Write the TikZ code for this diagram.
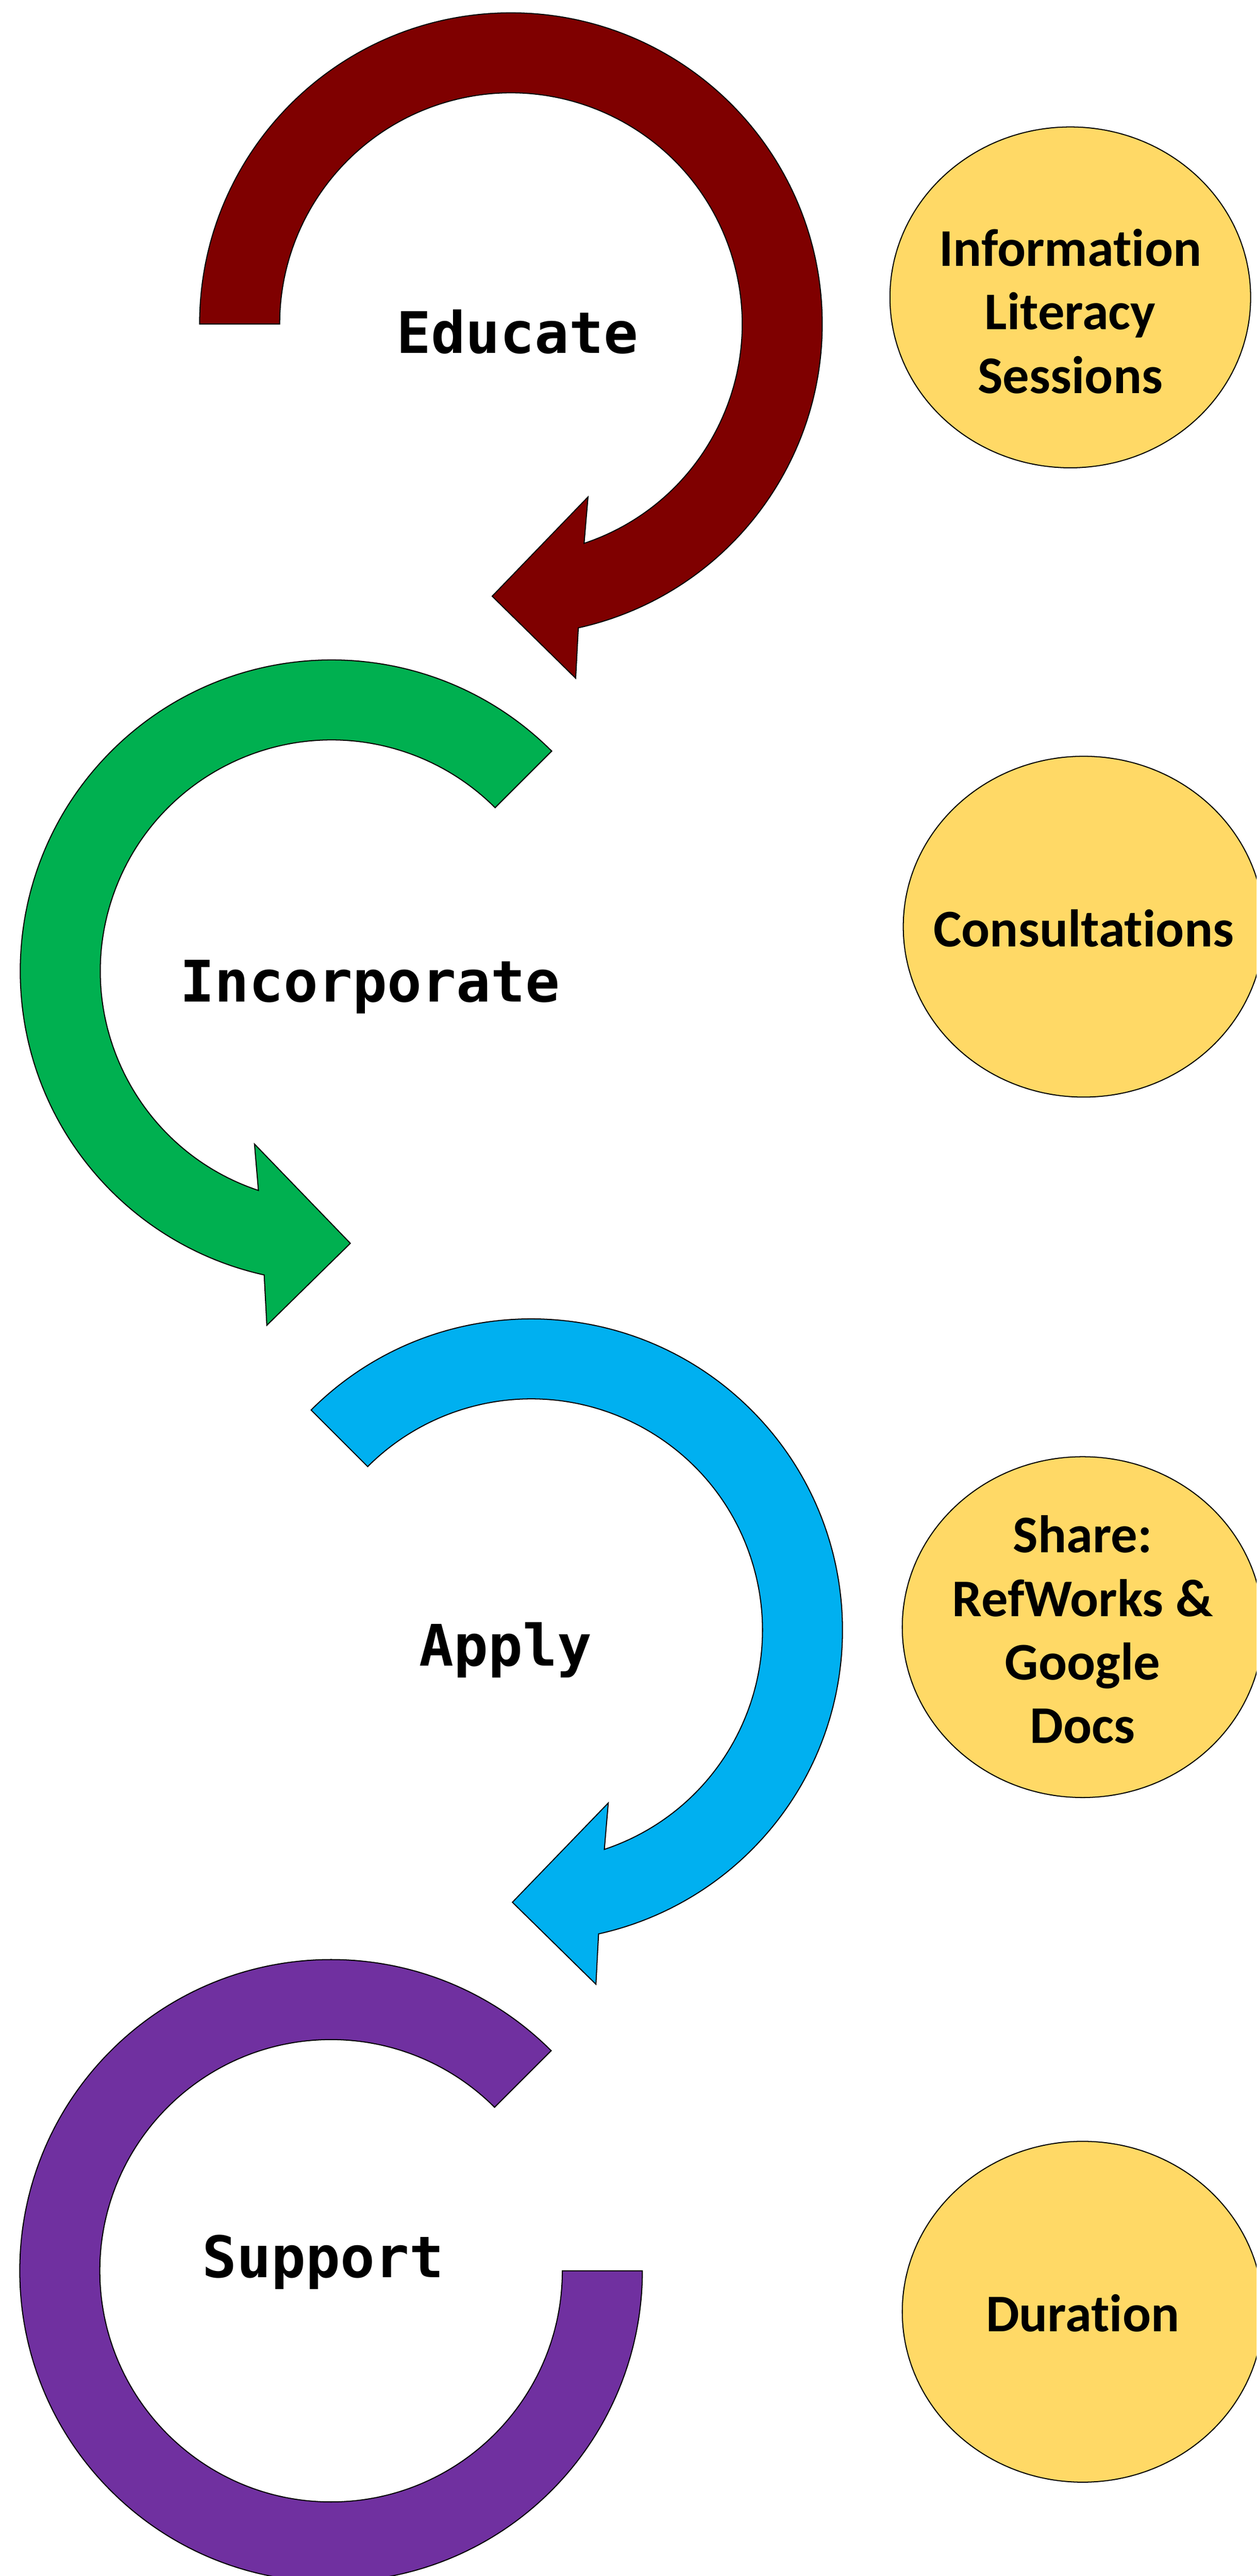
\documentclass[tikz,border=0pt]{standalone}
\usepackage{fontspec}
\setmainfont{Carlito}[Ligatures=NoCommon]
\newfontfamily\labfont{DejaVu Sans Mono}
\usetikzlibrary{shapes.geometric,calc}
\definecolor{cmaroon}{HTML}{7F0000}
\definecolor{cgreen}{HTML}{00B050}
\definecolor{cblue}{HTML}{00B0F0}
\definecolor{cpurple}{HTML}{7030A0}
\definecolor{cgold}{HTML}{FFD966}
\tikzset{
  band/.style={draw=black, line width=0.6pt, line join=miter},
  bubble/.style={ellipse, draw=black, line width=0.6pt, fill=cgold,
    minimum width=7.30cm, minimum height=6.90cm, inner sep=0pt},
  bubbletext/.style={align=center, font=\fontsize{30.5}{36.6}\selectfont\bfseries, inner sep=0pt},
  steplabel/.style={anchor=base, font=\labfont\bfseries\fontsize{33}{40}\selectfont, inner sep=0pt},
}
\newcommand{\circarrow}[1]{(#1:6.30) arc[start angle=#1, end angle=-77.5, radius=6.30]
  -- (1.31,-7.17) -- (-0.38,-5.51) -- (1.56,-3.50) -- (-71.56:4.68)
  arc[start angle=-71.56, end angle=#1, radius=4.68] -- cycle}
\begin{document}
\begin{tikzpicture}
\useasboundingbox (0,0) rectangle (25.43,-52.15);
\clip (0,0) rectangle (25.43,-52.15);
% Educate arrow
\begin{scope}[shift={(10.34,-6.56)}]
  \path[band, fill=cmaroon] \circarrow{180};
\end{scope}
% Incorporate arrow (mirrored)
\begin{scope}[shift={(6.71,-19.66)}, xscale=-1]
  \path[band, fill=cgreen] \circarrow{135};
\end{scope}
% Apply arrow
\begin{scope}[shift={(10.75,-33.00)}]
  \path[band, fill=cblue] \circarrow{135};
\end{scope}
% Support band
\begin{scope}[shift={(6.70,-45.97)}]
  \path[band, fill=cpurple] (45:6.30) arc[start angle=45, end angle=360, radius=6.30]
    -- (4.68,0) arc[start angle=360, end angle=45, radius=4.68] -- cycle;
\end{scope}
% step labels
\node[steplabel] (educate) at (10.47,-7.15) {Educate};
\node[steplabel] (incorporate) at (7.49,-20.28) {Incorporate};
\node[steplabel] (apply) at (10.23,-33.73) {Apply};
\node[steplabel] (support) at (6.54,-46.11) {Support};
% bubbles
\node[bubble] (b1) at (21.66,-6.02) {};
\node[bubbletext] (t1) at (21.66,-6.30) {Information\\Literacy\\Sessions};
\node[bubble] (b2) at (21.93,-18.76) {};
\node[bubbletext] (t2) at ($(b2.center)+(0,-0.03)$) {Consultations};
\node[bubble] (b3) at (21.91,-32.94) {};
\node[bubbletext] (t3) at ($(b3.center)+(0,-0.05)$) {Share:\\RefWorks \&\\Google\\Docs};
\node[bubble] (b4) at (21.91,-46.80) {};
\node[bubbletext] (t4) at ($(b4.center)+(0,-0.03)$) {Duration};
\end{tikzpicture}
\end{document}
